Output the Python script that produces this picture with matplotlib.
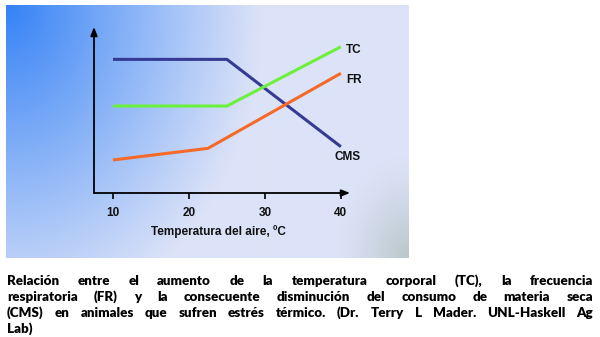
import numpy as np
import matplotlib
matplotlib.use("Agg")
import matplotlib.pyplot as plt

# Air temperature (ºC) and relative response levels
temp_cms = [10, 25, 40]
cms = [80.5, 80.5, 27.9]          # consumo de materia seca
temp_tc = [10, 25, 40]
tc = [52.4, 52.4, 88.1]           # temperatura corporal
temp_fr = [10, 22.5, 40]
fr = [19.9, 26.9, 72.1]           # frecuencia respiratoria
xticks = [10, 20, 30, 40]
xlabel = "Temperatura del aire, ºC"

caption_lines = [
    "Relación entre el aumento de la temperatura corporal (TC), la frecuencia",
    "respiratoria (FR) y la consecuente disminución del consumo de materia seca",
    "(CMS) en animales que sufren estrés térmico. (Dr. Terry L Mader. UNL-Haskell Ag",
    "Lab)",
]

W, H = 600, 337
fig = plt.figure(figsize=(W / 100, H / 100), dpi=100)
fig.patch.set_facecolor("white")


def px_box(x0, y0, x1, y1):
    """Figure-fraction rect from pixel box measured from the top-left."""
    return [x0 / W, (H - y1) / H, (x1 - x0) / W, (y1 - y0) / H]


# Gradient backdrop of the slide
bg = fig.add_axes(px_box(6, 5, 408, 258))
bg.set_axis_off()
ny, nx = 253, 402
yy, xx = np.mgrid[0:1:ny * 1j, 0:1:nx * 1j]
base = np.array([220, 227, 248]) / 255.0
blue = np.array([52, 130, 246]) / 255.0
gray = np.array([165, 180, 172]) / 255.0
r = np.sqrt((xx / 0.64) ** 2 + (yy / 1.3) ** 2)
wb = np.clip(1 - r, 0, 1) ** 1.05
rg = np.sqrt(((1 - xx) / 0.18) ** 2 + ((1 - yy) / 0.4) ** 2)
wg = np.clip(1 - rg, 0, 1) ** 1.2 * 0.6
img = base[None, None, :] * (1 - wb[..., None]) + blue[None, None, :] * wb[..., None]
img = img * (1 - wg[..., None]) + gray[None, None, :] * wg[..., None]
bg.imshow(img, aspect="auto", extent=[0, 1, 0, 1], interpolation="bilinear")

# Chart axes
ax = fig.add_axes(px_box(94, 27, 350, 193))
ax.patch.set_alpha(0)
ax.set_xlim(7.5, 41.2)
ax.set_ylim(0, 100)
for s in ax.spines.values():
    s.set_visible(False)

arrow = dict(arrowstyle="-|>,head_length=0.5,head_width=0.2", color="black", lw=1.3,
             shrinkA=0, shrinkB=0)
ax.annotate("", xy=(0, 1.0), xytext=(0, 0), xycoords="axes fraction",
            textcoords="axes fraction", arrowprops=arrow)
ax.annotate("", xy=(1.0, 0), xytext=(0, 0), xycoords="axes fraction",
            textcoords="axes fraction", arrowprops=arrow)

lw = 2.2
ax.plot(temp_cms, cms, color="#353a92", lw=lw, solid_capstyle="butt")
ax.plot(temp_tc, tc, color="#6cf03c", lw=lw, solid_capstyle="butt")
ax.plot(temp_fr, fr, color="#f56a28", lw=lw, solid_capstyle="butt")

lab = dict(fontfamily="Liberation Sans", fontweight="bold", fontsize=8.5, color="#111111")
ax.text(40.7, tc[-1] - 2, "TC", ha="left", va="center", **lab)
ax.text(40.7, fr[-1] - 4, "FR", ha="left", va="center", **lab)
ax.text(39.2, cms[-1] - 6, "CMS", ha="left", va="center", **lab)

ax.set_yticks([])
ax.set_xticks(xticks)
ax.set_xticklabels([str(t) for t in xticks], **lab)
ax.tick_params(axis="x", direction="out", length=4, width=1.2, pad=6, color="black")
fig.text(218 / W, (H - 232) / H, xlabel, ha="center", va="center", **lab)

# Justified caption
cap = dict(fontfamily="Lato", fontweight="heavy", fontsize=9.6, color="black")
renderer = fig.canvas.get_renderer()
x_left, x_right = 7, 593
baselines = [285, 301, 317, 333]
for i, (line, yb) in enumerate(zip(caption_lines, baselines)):
    words = line.split()
    texts = [fig.text(0, (H - yb) / H, w, ha="left", va="baseline", **cap) for w in words]
    widths = [t.get_window_extent(renderer).width for t in texts]
    last = i == len(caption_lines) - 1
    if last or len(words) == 1:
        gap = 4.0
    else:
        gap = (x_right - x_left - sum(widths)) / (len(words) - 1)
    x = x_left
    for t, wdt in zip(texts, widths):
        t.set_x(x / W)
        x += wdt + gap

fig.savefig("out.png", dpi=100, facecolor="white")
